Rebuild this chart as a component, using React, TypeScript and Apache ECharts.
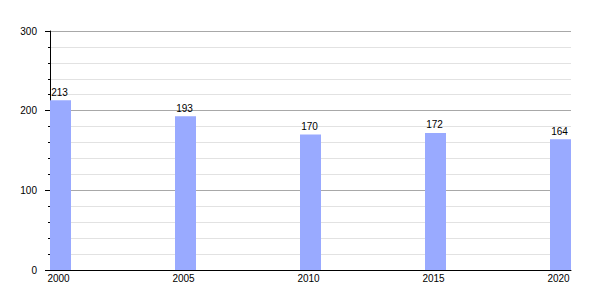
import React, { useEffect, useRef } from "react";
import * as echarts from "echarts";

const years = [2000, 2005, 2010, 2015, 2020];
const values = [213, 193, 170, 172, 164];
const yTicks = [0, 100, 200, 300];

const BAR_SPAN = 0.84; // bar width in years

export default function App() {
  const ref = useRef<HTMLDivElement>(null);
  useEffect(() => {
    if (!ref.current) return;
    const chart = echarts.init(ref.current, null, { renderer: "svg" });
    const font = "'Liberation Sans', Arial, sans-serif";
    chart.setOption({
      animation: false,
      grid: { left: 50, right: 29, top: 31, bottom: 30 },
      xAxis: {
        type: "value",
        min: years[0],
        max: years[years.length - 1] + BAR_SPAN,
        interval: 5,
        axisLine: { show: true, onZero: false, lineStyle: { color: "#000", width: 1 } },
        axisTick: { show: false },
        splitLine: { show: false },
        axisLabel: {
          color: "#000",
          fontFamily: font,
          fontSize: 10,
          margin: 3,
          align: "center",
          padding: [0, 0, 0, 17],
          showMaxLabel: true,
          formatter: (v: number) => (years.includes(v) ? String(v) : ""),
        },
      },
      yAxis: {
        type: "value",
        min: yTicks[0],
        max: yTicks[yTicks.length - 1],
        interval: 100,
        axisLine: { show: true, lineStyle: { color: "#000", width: 1 } },
        axisTick: { show: true, length: 5, lineStyle: { color: "#000" } },
        minorTick: { show: true, splitNumber: 5, length: 2, lineStyle: { color: "#000" } },
        splitLine: { show: true, lineStyle: { color: "#a8a8a8", width: 1 } },
        minorSplitLine: { show: true, lineStyle: { color: "#e2e2e2", width: 1 } },
        axisLabel: { color: "#000", fontFamily: font, fontSize: 10, margin: 13 },
      },
      series: [
        {
          type: "custom",
          data: years.map((y, i) => [y, values[i]]),
          encode: { x: 0, y: 1 },
          renderItem: (params: any, api: any) => {
            const x = api.value(0);
            const v = api.value(1);
            const p0 = api.coord([x, v]);
            const p1 = api.coord([x + BAR_SPAN, 0]);
            return {
              type: "group",
              children: [
                {
                  type: "rect",
                  shape: { x: p0[0], y: p0[1], width: p1[0] - p0[0], height: p1[1] - p0[1] },
                  style: { fill: "#99aaff" },
                },
                {
                  type: "text",
                  x: (p0[0] + p1[0]) / 2 - 1,
                  y: p0[1] - 3,
                  style: {
                    text: String(v),
                    fill: "#000",
                    font: `10px ${font}`,
                    align: "center",
                    verticalAlign: "bottom",
                  },
                },
              ],
            };
          },
        },
      ],
    });
    return () => chart.dispose();
  }, []);
  return <div ref={ref} style={{ width: 600, height: 300, position: "absolute", left: 0, top: 0 }} />;
}
